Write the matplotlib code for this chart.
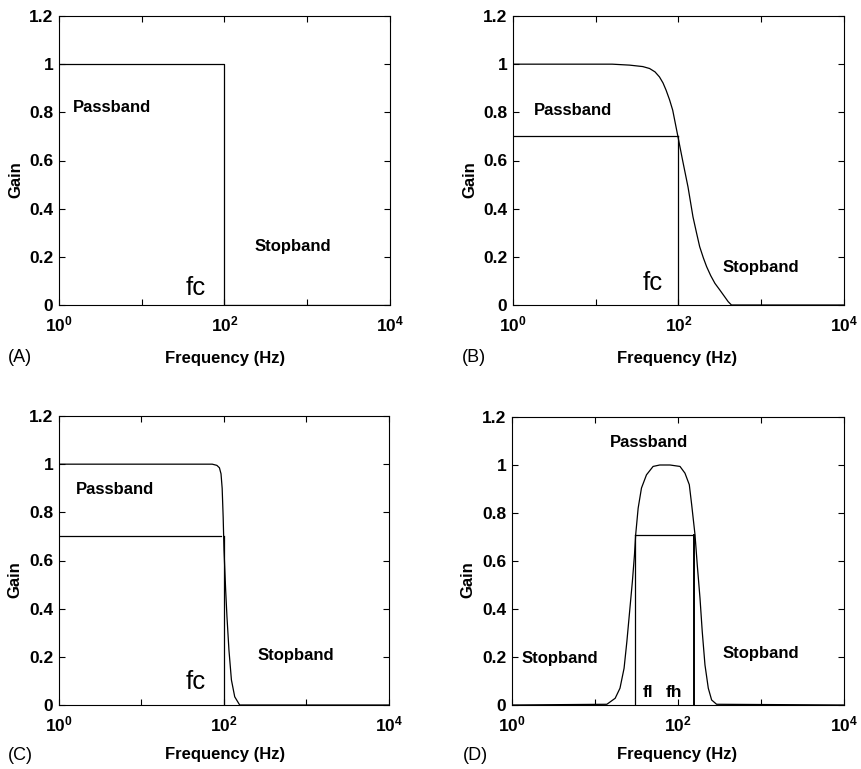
import matplotlib
matplotlib.use("Agg")
import matplotlib.pyplot as plt
from matplotlib.ticker import FixedLocator, FixedFormatter, NullFormatter

plt.rcParams['font.family'] = ['Liberation Sans', 'DejaVu Sans']
plt.rcParams['mathtext.fontset'] = 'custom'
plt.rcParams['mathtext.rm'] = 'Liberation Sans:bold'
plt.rcParams['mathtext.it'] = 'Liberation Sans:bold'
plt.rcParams['mathtext.bf'] = 'Liberation Sans:bold'
plt.rcParams['mathtext.default'] = 'rm'

# ---------------- data ----------------
x_ticks = [1, 100, 10000]
x_tick_labels = [r'$10^{0}$', r'$10^{2}$', r'$10^{4}$']
x_minor_ticks = [10, 1000]
y_ticks = [0, 0.2, 0.4, 0.6, 0.8, 1.0, 1.2]
y_tick_labels = ['0', '0.2', '0.4', '0.6', '0.8', '1', '1.2']

# (A) ideal low-pass
a_freq = [1, 100, 100, 10000]
a_gain = [1, 1, 0, 0]

# (B) gentle low-pass
b_freq = [1, 15.8, 25.7, 37.0, 44.7, 52.0, 58.9, 65.0, 70.8, 78.0, 85.1, 97.7, 112.2,
          130.3, 149.6, 165.0, 180.3, 200.0, 218.8, 245.0, 275.4, 316.2, 360.0,
          398.1, 436.5, 10000]
b_gain = [1, 1, 0.996, 0.99, 0.982, 0.968, 0.947, 0.922, 0.892, 0.852, 0.809, 0.705,
          0.60, 0.49, 0.366, 0.30, 0.242, 0.195, 0.159, 0.122, 0.090, 0.062, 0.035,
          0.014, 0, 0]
b_level = 0.70
b_fc = 100

# (C) steep low-pass
c_freq = [1, 72, 82, 88, 92, 95, 97.7, 100, 104.7, 108.6, 114.8, 123, 134.9, 154.9, 10000]
c_gain = [1, 1, 0.995, 0.985, 0.96, 0.90, 0.78, 0.644, 0.478, 0.367, 0.228, 0.104, 0.034, 0, 0]
c_level = 0.70
c_level_end = 93
c_fc = 100

# (D) band-pass
d_freq = [1, 13.9, 17.5, 20.0, 22.4, 24.2, 25.9, 28.2, 29.9, 30.9, 33.1, 36.3, 41.7,
          50.1, 60.3, 80.2, 105.7, 121.3, 136.8, 146.2, 160.3, 170.6, 184.1, 195.9,
          211.3, 231.7, 254.1, 291.7, 10000]
d_gain = [0, 0.003, 0.028, 0.07, 0.153, 0.264, 0.375, 0.514, 0.626, 0.709, 0.82, 0.904,
          0.959, 0.994, 1.0, 1.0, 0.994, 0.966, 0.918, 0.834, 0.709, 0.584, 0.445, 0.306,
          0.167, 0.07, 0.021, 0.003, 0]
d_level = 0.707
d_fl = 30.6
d_fh = 158

panel_letters = ['(A)', '(B)', '(C)', '(D)']
x_label = 'Frequency (Hz)'
y_label = 'Gain'

# ---------------- figure ----------------
W, H = 862, 769
fig = plt.figure(figsize=(W / 100, H / 100), dpi=100)
fig.patch.set_facecolor('white')

# axes boxes in pixels: (left, top, right, bottom)
boxes = [(59, 16, 390, 305), (513, 16, 844, 305),
         (59, 416, 389, 705), (512, 417, 844, 705)]

LW = 0.9
axes = []
for (l, t, r, b) in boxes:
    ax = fig.add_axes([l / W, 1 - b / H, (r - l) / W, (b - t) / H])
    ax.set_xscale('log')
    ax.set_xlim(1, 10000)
    ax.set_ylim(0, 1.2)
    ax.xaxis.set_major_locator(FixedLocator(x_ticks))
    ax.xaxis.set_major_formatter(FixedFormatter(x_tick_labels))
    ax.xaxis.set_minor_locator(FixedLocator(x_minor_ticks))
    ax.xaxis.set_minor_formatter(NullFormatter())
    ax.yaxis.set_major_locator(FixedLocator(y_ticks))
    ax.yaxis.set_major_formatter(FixedFormatter(y_tick_labels))
    ax.tick_params(which='both', direction='in', top=True, right=True,
                   length=4, width=0.8, color='black')
    ax.tick_params(axis='x', which='major', pad=7, labelsize=12.5)
    ax.tick_params(axis='y', which='major', pad=4, labelsize=12.5)
    for lab in ax.get_yticklabels():
        lab.set_fontweight('bold')
    for sp in ax.spines.values():
        sp.set_linewidth(0.8)
        sp.set_color('black')
    axes.append(ax)

axA, axB, axC, axD = axes
txt = dict(fontsize=12, fontweight='bold', ha='left', va='baseline')
fc_txt = dict(fontsize=18.5, ha='left', va='baseline')
f_txt = dict(fontsize=12.5, fontweight='bold', ha='left', va='baseline')

# (A)
axA.plot(a_freq, a_gain, color='black', lw=LW)
axA.text(1.48, 0.80, 'Passband', **txt)
axA.text(232, 0.225, 'Stopband', **txt)
axA.text(34, 0.041, 'fc', **fc_txt)

# (B)
axB.plot(b_freq, b_gain, color='black', lw=LW)
axB.plot([1, b_fc], [b_level, b_level], color='black', lw=LW)
axB.plot([b_fc, b_fc], [0, b_level], color='black', lw=LW)
axB.text(1.78, 0.788, 'Passband', **txt)
axB.text(336, 0.138, 'Stopband', **txt)
axB.text(37, 0.062, 'fc', **fc_txt)

# (C)
axC.plot(c_freq, c_gain, color='black', lw=LW)
axC.plot([1, c_level_end], [c_level, c_level], color='black', lw=LW)
axC.plot([c_fc, c_fc], [0, c_level], color='black', lw=LW)
axC.text(1.62, 0.876, 'Passband', **txt)
axC.text(258, 0.187, 'Stopband', **txt)
axC.text(34, 0.066, 'fc', **fc_txt)

# (D)
axD.plot(d_freq, d_gain, color='black', lw=LW)
axD.plot([d_fl, d_fh], [d_level, d_level], color='black', lw=LW)
axD.plot([d_fl, d_fl], [0, d_level], color='black', lw=LW)
axD.plot([d_fh, d_fh], [0, d_level], color='black', lw=1.4)
axD.text(15.2, 1.077, 'Passband', **txt)
axD.text(1.29, 0.174, 'Stopband', **txt)
axD.text(340, 0.195, 'Stopband', **txt)
axD.text(38, 0.035, 'fl', **f_txt)
axD.text(72, 0.035, 'fh', **f_txt)

# axis labels and panel letters (pixel positions)
label_pos = [  # (gain_x, gain_y, freq_x, freq_y, letter_x)
    (16, 180, 225, 358, 20),
    (470, 180, 677, 358, 474),
    (15, 580, 225, 755, 20),
    (468, 580, 677, 755, 475),
]
for (gx, gy, fx, fy, lx), letter in zip(label_pos, panel_letters):
    fig.text(gx / W, 1 - gy / H, y_label, rotation=90, ha='center', va='center',
             fontsize=12, fontweight='bold')
    fig.text(fx / W, 1 - fy / H, x_label, ha='center', va='center',
             fontsize=12, fontweight='bold')
    fig.text(lx / W, 1 - fy / H, letter, ha='center', va='center', fontsize=13)

fig.savefig('out.png', dpi=100)
